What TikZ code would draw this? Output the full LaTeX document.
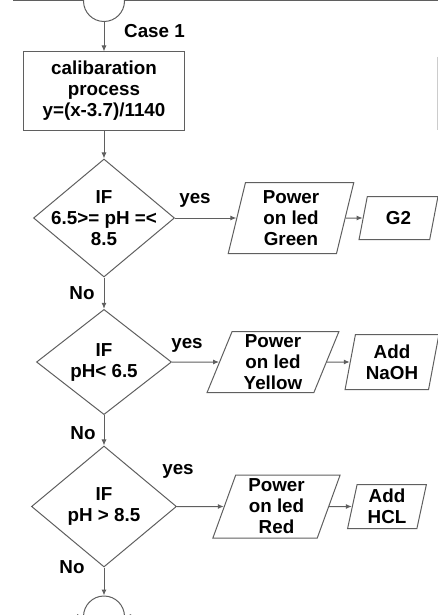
\documentclass[tikz,border=0pt]{standalone}
\usepackage{fontspec}
\setmainfont{Liberation Sans}
\usetikzlibrary{arrows.meta,shapes.geometric,calc}
\definecolor{LineGray}{RGB}{95,95,95}
\newcommand{\flowfont}{\fontsize{18.8}{21}\selectfont\bfseries}

\begin{document}
\begin{tikzpicture}[x=1pt,y=-1pt,
    every node/.style={font=\flowfont,align=center,inner sep=0pt},
    proc/.style={draw=LineGray,line width=1pt,minimum width=161pt,minimum height=78pt},
    test/.style={diamond,draw=LineGray,line width=1pt},
    io/.style={trapezium,draw=LineGray,line width=1pt,trapezium stretches=true},
    conn/.style={circle,draw=LineGray,line width=1pt,minimum size=41pt},
    arr/.style={-{Latex[length=6pt,width=5pt]},draw=LineGray,line width=1pt},
    wire/.style={draw=LineGray,line width=1pt}]
  \useasboundingbox (0,0) rectangle (438,615);
  % connector at the top and the start of case 1
  \node[conn] (top) at (104,1) {};
  \coordinate (topL) at (13,1);
  \coordinate (topR) at (445,1);
  \draw[wire] (topL) -- (top);
  \draw[wire] (top) -- (topR);
  \draw[black!20,line width=1pt] (437,57) -- (437,130);
  \node[proc] (calib) at (104,91) {calibaration\\process\\y=(x-3.7)/1140};
  \node[right] (case) at (124,31) {Case 1};
  \draw[arr] (top) -- (calib);

  % first test: 6.5 .. 8.5 (text set apart, it is wider than the diamond allows)
  \node[test,minimum width=141pt,minimum height=118pt] (ifA) at (104,218) {};
  \node (ifAtext) at (ifA) {IF\\6.5>= pH =<\\8.5};
  \node[io,trapezium left angle=79,trapezium right angle=101,minimum width=126pt,minimum height=71pt] (ledG) at (291,218) {Power\\on led\\Green};
  \node[io,trapezium left angle=76,trapezium right angle=104,minimum width=79pt,minimum height=43pt] (gTwo) at (398.5,218) {G2};
  \draw[arr] (calib) -- (ifA);
  \draw[arr] (ifA) -- (ledG);
  \draw[arr] (ledG) -- (gTwo);
  \node (yesA) at (195,200) {yes};
  \node (noA) at (82,293) {No};

  % second test: below 6.5
  \node[test,minimum width=135pt,minimum height=103pt] (ifB) at (104,362) {IF\\pH< 6.5};
  \node[io,trapezium left angle=72,trapezium right angle=108,minimum width=132pt,minimum height=61pt] (ledY) at (273,362) {Power\\on led\\Yellow};
  \node[io,trapezium left angle=78,trapezium right angle=102,minimum width=94pt,minimum height=55pt] (naoh) at (392,362) {Add\\NaOH};
  \draw[arr] (ifA) -- (ifB);
  \draw[arr] (ifB) -- (ledY);
  \draw[arr] (ledY) -- (naoh);
  \node (yesB) at (187,345) {yes};
  \node (noB) at (83,433) {No};

  % third test: above 8.5
  \node[test,minimum width=145pt,minimum height=121pt] (ifC) at (104,506.5) {IF\\pH > 8.5};
  \node[io,trapezium left angle=74,trapezium right angle=106,minimum width=128pt,minimum height=63pt] (ledR) at (276.5,506.5) {Power\\on led\\Red};
  \node[io,trapezium left angle=80,trapezium right angle=100,minimum width=79pt,minimum height=44pt] (hcl) at (387,506.5) {Add\\HCL};
  \draw[arr] (ifB) -- (ifC);
  \draw[arr] (ifC) -- (ledR);
  \draw[arr] (ledR) -- (hcl);
  \node (yesC) at (178,471) {yes};
  \node (noC) at (72,567) {No};

  % connector at the bottom
  \node[conn] (bot) at (104,616.5) {};
  \coordinate (botL) at (60,616.5);
  \coordinate (botR) at (148,616.5);
  \draw[arr] (ifC) -- (bot);
  \draw[arr] (botL) -- (bot);
  \draw[arr] (botR) -- (bot);
\end{tikzpicture}
\end{document}
